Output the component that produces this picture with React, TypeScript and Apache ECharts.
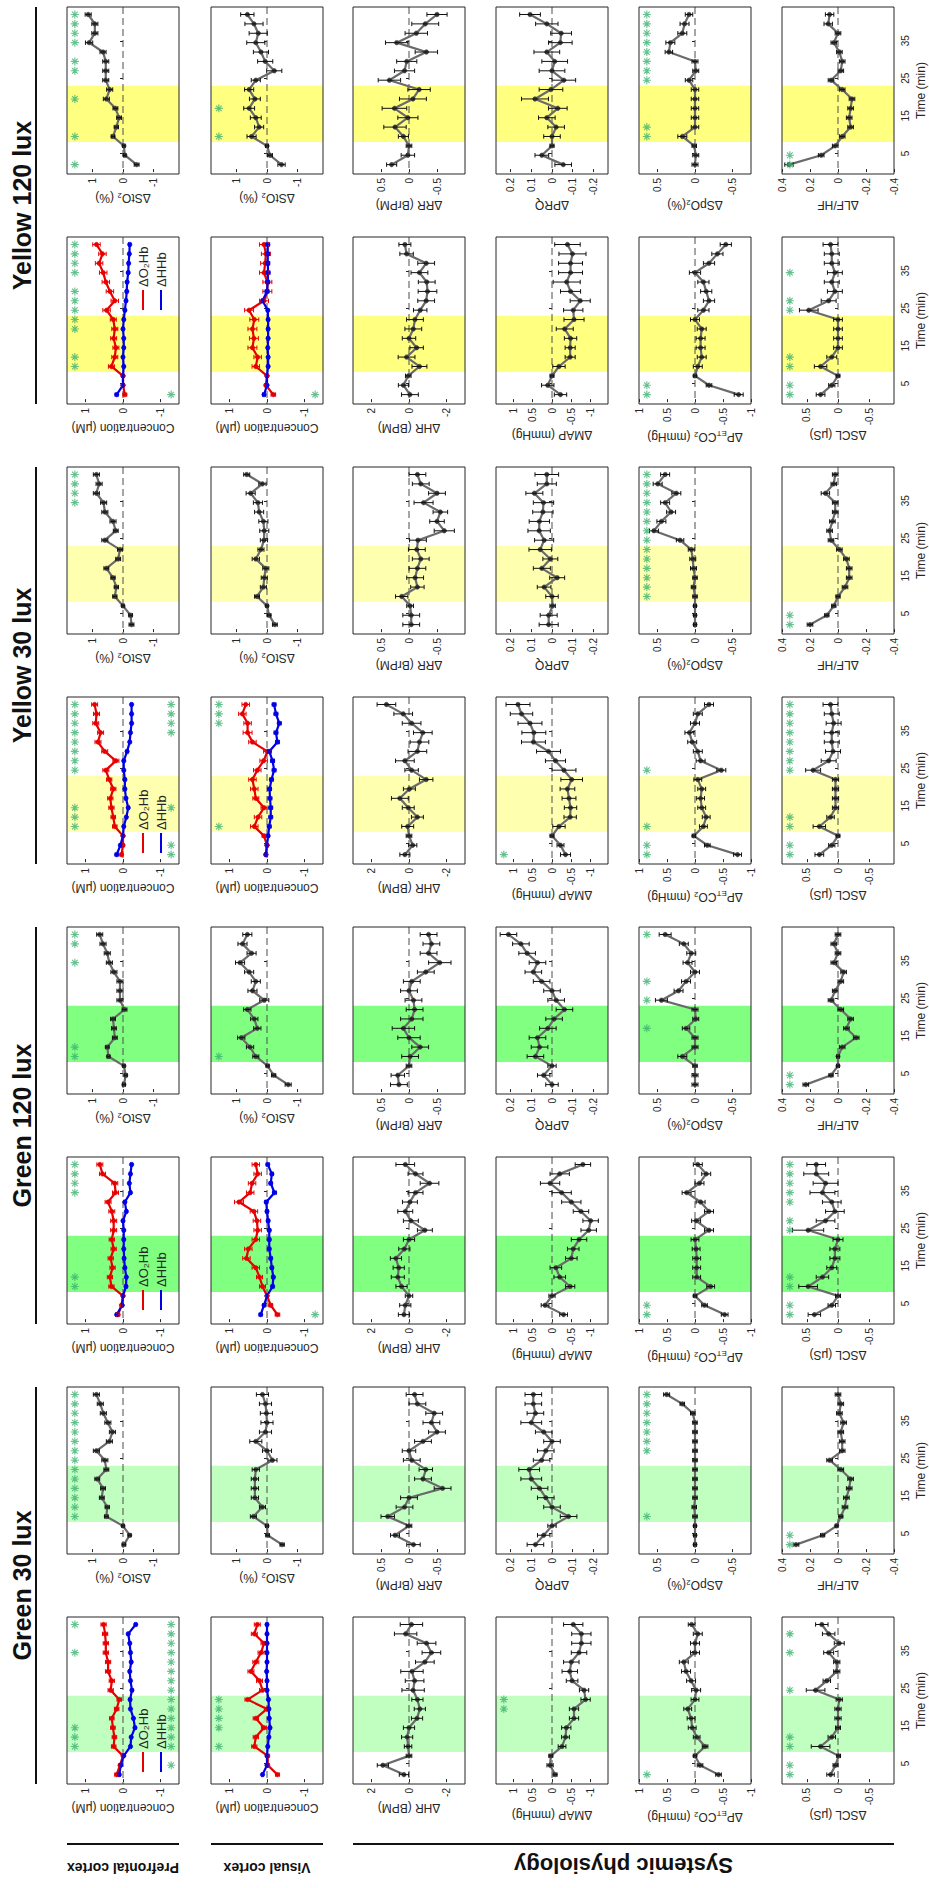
import React, { useEffect, useRef } from 'react';
import * as echarts from 'echarts';

// ---------- time base (min) ----------
const TIME = [2, 4.5, 7, 9.5, 12, 14.5, 17, 19.5, 22, 24.5, 27, 29.5, 32, 34.5, 37, 39.5, 42];
const LIGHT_ON = [8, 23];
const TIME_TICKS = [5, 15, 25, 35];
const CONDITIONS = ['Yellow 120 lux', 'Yellow 30 lux', 'Green 120 lux', 'Green 30 lux'];
const GROUPS = ['Prefrontal cortex', 'Visual cortex', 'Systemic physiology'];

// ---------- Yellow 120 lux ----------
const y120_pfc_sto2 = [-0.45, -0.06, -0.03, 0.33, 0.22, 0.13, 0.25, 0.55, 0.44, 0.57, 0.57, 0.57, 0.66, 1.12, 0.93, 0.93, 1.15];
const y120_pfc_sto2_err = [0.08, 0.04, 0.04, 0.06, 0.07, 0.08, 0.08, 0.1, 0.1, 0.1, 0.1, 0.1, 0.1, 0.12, 0.1, 0.1, 0.1];
const y120_pfc_sto2_sig = [1, 4, 8, 11, 12, 14, 15, 16, 17];
const y120_vc_sto2 = [-0.48, -0.1, 0.0, 0.51, 0.26, 0.37, 0.59, 0.4, 0.59, 0.37, -0.24, 0.06, 0.2, 0.37, 0.29, 0.43, 0.65];
const y120_vc_sto2_err = [0.12, 0.08, 0.05, 0.15, 0.15, 0.18, 0.18, 0.18, 0.15, 0.15, 0.25, 0.25, 0.25, 0.3, 0.3, 0.3, 0.22];
const y120_vc_sto2_sig = [4, 7];
const y120_rr = [0.31, 0.02, 0.0, 0.1, 0.25, 0.02, 0.26, -0.07, -0.18, 0.35, 0.08, 0.04, -0.31, 0.22, -0.13, -0.29, -0.5];
const y120_rr_err = [0.09, 0.12, 0.05, 0.09, 0.2, 0.18, 0.22, 0.24, 0.2, 0.2, 0.18, 0.18, 0.2, 0.2, 0.2, 0.24, 0.18];
const y120_prq = [-0.054, 0.049, 0.0, 0.0, -0.02, 0.025, -0.028, 0.082, 0.005, -0.057, 0.0, -0.013, 0.025, -0.04, -0.044, 0.025, 0.106];
const y120_prq_err = [0.04, 0.033, 0.01, 0.04, 0.04, 0.04, 0.045, 0.065, 0.057, 0.057, 0.062, 0.062, 0.062, 0.057, 0.05, 0.054, 0.05];
const y120_spo2 = [0.0, -0.01, 0.01, 0.17, 0.0, 0.0, 0.0, 0.0, 0.0, 0.08, -0.01, 0.0, 0.35, 0.33, 0.17, 0.14, 0.08];
const y120_spo2_err = [0.04, 0.04, 0.03, 0.06, 0.05, 0.05, 0.05, 0.05, 0.05, 0.05, 0.04, 0.04, 0.05, 0.06, 0.06, 0.06, 0.05];
const y120_spo2_sig = [4, 5, 10, 11, 12, 13, 14, 15, 16, 17];
const y120_lfhf = [0.35, 0.12, 0.02, -0.03, -0.09, -0.08, -0.09, -0.1, -0.03, 0.05, -0.02, -0.03, -0.01, 0.03, 0.0, 0.07, 0.06];
const y120_lfhf_err = [0.03, 0.02, 0.02, 0.02, 0.02, 0.02, 0.02, 0.02, 0.02, 0.02, 0.02, 0.02, 0.02, 0.02, 0.02, 0.03, 0.03];
const y120_lfhf_sig = [1, 2];
const y120_pfc_o2hb = [-0.05, 0.0, 0.0, 0.31, 0.22, 0.19, 0.25, 0.22, 0.26, 0.44, 0.22, 0.35, 0.46, 0.53, 0.64, 0.55, 0.71];
const y120_pfc_o2hb_err = [0.05, 0.03, 0.03, 0.08, 0.08, 0.08, 0.08, 0.08, 0.08, 0.1, 0.1, 0.1, 0.1, 0.1, 0.1, 0.1, 0.1];
const y120_pfc_o2hb_sig = [4, 5, 8, 9, 10, 11, 12, 14, 15, 16, 17];
const y120_pfc_hhb = [0.17, 0.0, 0.0, -0.02, 0.0, -0.02, -0.02, 0.0, -0.02, -0.05, -0.08, -0.1, -0.11, -0.14, -0.15, -0.17, -0.18];
const y120_pfc_hhb_err = [0.04, 0.02, 0.02, 0.03, 0.03, 0.03, 0.03, 0.03, 0.03, 0.03, 0.03, 0.03, 0.03, 0.03, 0.03, 0.03, 0.03];
const y120_pfc_hhb_sig = [1];
const y120_vc_o2hb = [-0.17, 0.03, 0.0, 0.3, 0.25, 0.39, 0.35, 0.39, 0.34, 0.48, 0.08, -0.01, -0.01, 0.08, 0.05, 0.03, 0.08];
const y120_vc_o2hb_err = [0.06, 0.04, 0.04, 0.1, 0.1, 0.12, 0.12, 0.12, 0.12, 0.12, 0.12, 0.12, 0.12, 0.12, 0.12, 0.12, 0.12];
const y120_vc_o2hb_sig = [];
const y120_vc_hhb = [0.08, 0.0, 0.0, -0.03, -0.03, -0.02, -0.03, -0.03, -0.03, -0.02, 0.12, 0.0, -0.02, -0.03, -0.02, -0.02, -0.02];
const y120_vc_hhb_err = [0.04, 0.02, 0.02, 0.03, 0.03, 0.03, 0.03, 0.03, 0.03, 0.03, 0.03, 0.05, 0.05, 0.05, 0.05, 0.05, 0.05];
const y120_vc_hhb_sig = [1];
const y120_hr = [-0.05, 0.3, 0.04, -0.56, 0.13, -0.41, 0.0, -0.23, -0.32, -0.6, -0.92, -0.99, -0.95, -0.56, -0.92, 0.13, 0.22];
const y120_hr_err = [0.45, 0.27, 0.15, 0.4, 0.45, 0.36, 0.36, 0.45, 0.45, 0.36, 0.45, 0.5, 0.45, 0.45, 0.45, 0.36, 0.32];
const y120_map = [-0.22, 0.11, 0.0, -0.18, -0.47, -0.47, -0.48, -0.33, -0.57, -0.55, -0.73, -0.48, -0.38, -0.48, -0.48, -0.53, -0.4];
const y120_map_err = [0.16, 0.16, 0.05, 0.16, 0.13, 0.13, 0.16, 0.22, 0.26, 0.25, 0.26, 0.26, 0.35, 0.31, 0.31, 0.35, 0.33];
const y120_map_sig = [];
const y120_petco2 = [-0.78, -0.25, 0.0, -0.05, -0.12, -0.1, -0.1, -0.12, 0.0, -0.15, -0.25, -0.2, -0.15, 0.0, -0.25, -0.4, -0.55];
const y120_petco2_err = [0.08, 0.05, 0.03, 0.08, 0.08, 0.08, 0.08, 0.08, 0.08, 0.1, 0.1, 0.1, 0.1, 0.1, 0.1, 0.1, 0.1];
const y120_petco2_sig = [1, 2];
const y120_scl = [0.28, 0.1, 0.0, 0.28, 0.1, 0.0, 0.0, 0.0, 0.0, 0.47, 0.15, 0.05, 0.1, 0.05, 0.1, 0.1, 0.12];
const y120_scl_err = [0.07, 0.05, 0.03, 0.1, 0.08, 0.07, 0.07, 0.07, 0.07, 0.15, 0.12, 0.12, 0.12, 0.12, 0.12, 0.12, 0.12];
const y120_scl_sig = [1, 2, 4, 5, 10, 11, 14];

// ---------- Yellow 30 lux ----------
const y30_pfc_sto2 = [-0.28, -0.25, 0.0, 0.27, 0.22, 0.33, 0.55, 0.16, 0.1, 0.6, 0.24, 0.33, 0.6, 0.64, 0.88, 0.79, 0.88];
const y30_pfc_sto2_err = [0.08, 0.06, 0.04, 0.07, 0.07, 0.07, 0.08, 0.08, 0.08, 0.1, 0.08, 0.1, 0.1, 0.1, 0.1, 0.1, 0.1];
const y30_pfc_sto2_sig = [14, 15, 16, 17];
const y30_vc_sto2 = [-0.26, -0.07, 0.0, 0.33, 0.12, 0.09, 0.04, 0.37, 0.2, 0.1, 0.09, 0.12, 0.26, 0.3, 0.54, 0.15, 0.67];
const y30_vc_sto2_err = [0.08, 0.06, 0.04, 0.08, 0.1, 0.1, 0.1, 0.12, 0.1, 0.12, 0.15, 0.15, 0.15, 0.15, 0.15, 0.12, 0.1];
const y30_vc_sto2_sig = [];
const y30_rr = [-0.04, -0.04, -0.02, 0.13, -0.15, -0.11, -0.15, -0.21, -0.14, -0.16, -0.63, -0.5, -0.56, -0.26, -0.5, -0.21, -0.15];
const y30_rr_err = [0.15, 0.15, 0.06, 0.11, 0.12, 0.15, 0.15, 0.15, 0.15, 0.15, 0.18, 0.13, 0.13, 0.17, 0.15, 0.15, 0.15];
const y30_prq = [0.016, 0.016, -0.003, 0.0, 0.038, -0.025, 0.049, 0.008, 0.057, 0.038, 0.062, 0.061, 0.044, 0.041, 0.085, 0.025, 0.025];
const y30_prq_err = [0.046, 0.041, 0.013, 0.03, 0.033, 0.036, 0.041, 0.036, 0.054, 0.046, 0.054, 0.049, 0.049, 0.049, 0.041, 0.046, 0.057];
const y30_spo2 = [0.0, 0.0, 0.0, 0.0, 0.02, 0.0, 0.02, 0.03, 0.05, 0.2, 0.55, 0.45, 0.32, 0.4, 0.25, 0.5, 0.4];
const y30_spo2_err = [0.02, 0.02, 0.02, 0.03, 0.03, 0.03, 0.04, 0.04, 0.04, 0.05, 0.06, 0.06, 0.06, 0.06, 0.06, 0.06, 0.06];
const y30_spo2_sig = [4, 5, 6, 7, 8, 9, 10, 11, 12, 13, 14, 15, 16, 17];
const y30_lfhf = [0.2, 0.08, 0.03, 0.0, -0.05, -0.08, -0.08, -0.06, -0.01, 0.05, 0.06, 0.04, 0.02, 0.02, 0.09, 0.03, 0.02];
const y30_lfhf_err = [0.02, 0.015, 0.015, 0.015, 0.02, 0.02, 0.02, 0.02, 0.02, 0.02, 0.02, 0.02, 0.02, 0.02, 0.03, 0.02, 0.02];
const y30_lfhf_sig = [1, 2];
const y30_pfc_o2hb = [0.04, 0.0, 0.0, 0.22, 0.26, 0.31, 0.34, 0.26, 0.37, 0.46, 0.19, 0.49, 0.67, 0.6, 0.73, 0.71, 0.76];
const y30_pfc_o2hb_err = [0.04, 0.03, 0.03, 0.06, 0.06, 0.07, 0.07, 0.07, 0.07, 0.08, 0.08, 0.08, 0.08, 0.08, 0.08, 0.08, 0.08];
const y30_pfc_o2hb_sig = [4, 5, 6, 10, 11, 12, 13, 14, 15, 16, 17];
const y30_pfc_hhb = [0.17, 0.07, 0.0, -0.02, -0.09, -0.14, -0.08, -0.05, -0.05, -0.02, -0.02, -0.11, -0.18, -0.2, -0.23, -0.23, -0.23];
const y30_pfc_hhb_err = [0.04, 0.03, 0.02, 0.03, 0.03, 0.03, 0.03, 0.03, 0.03, 0.03, 0.03, 0.03, 0.03, 0.03, 0.03, 0.03, 0.03];
const y30_pfc_hhb_sig = [1, 2, 6, 14, 15, 16, 17];
const y30_vc_o2hb = [0.03, 0.0, 0.08, 0.34, 0.24, 0.08, 0.3, 0.34, 0.39, 0.26, 0.09, -0.01, 0.39, 0.52, 0.52, 0.66, 0.57];
const y30_vc_o2hb_err = [0.04, 0.03, 0.05, 0.1, 0.1, 0.08, 0.08, 0.1, 0.1, 0.1, 0.1, 0.1, 0.1, 0.12, 0.1, 0.1, 0.1];
const y30_vc_o2hb_sig = [4, 15, 16, 17];
const y30_vc_hhb = [0.03, 0.0, -0.03, -0.06, -0.1, -0.1, -0.08, -0.07, -0.12, -0.19, -0.15, -0.06, -0.28, -0.24, -0.33, -0.24, -0.19];
const y30_vc_hhb_err = [0.03, 0.02, 0.03, 0.05, 0.05, 0.05, 0.05, 0.05, 0.05, 0.05, 0.05, 0.05, 0.05, 0.05, 0.05, 0.05, 0.05];
const y30_vc_hhb_sig = [];
const y30_hr = [0.22, -0.2, 0.0, 0.07, -0.45, 0.04, 0.49, -0.02, -0.92, -0.14, 0.22, -0.45, -0.56, -0.74, -0.14, 0.31, 1.21];
const y30_hr_err = [0.27, 0.22, 0.15, 0.32, 0.32, 0.32, 0.45, 0.32, 0.36, 0.36, 0.5, 0.5, 0.5, 0.5, 0.5, 0.5, 0.5];
const y30_map = [-0.35, -0.22, 0.0, -0.18, -0.47, -0.48, -0.44, -0.4, -0.51, -0.31, -0.09, 0.09, 0.48, 0.47, 0.57, 0.79, 0.88];
const y30_map_err = [0.13, 0.09, 0.05, 0.16, 0.16, 0.16, 0.18, 0.19, 0.28, 0.31, 0.26, 0.31, 0.31, 0.31, 0.31, 0.29, 0.31];
const y30_map_sig = [1];
const y30_petco2 = [-0.76, -0.22, 0.02, -0.15, -0.2, -0.12, -0.1, -0.12, -0.05, -0.47, -0.1, -0.05, 0.05, 0.1, 0.0, -0.05, -0.25];
const y30_petco2_err = [0.07, 0.05, 0.03, 0.07, 0.07, 0.07, 0.07, 0.07, 0.07, 0.08, 0.08, 0.08, 0.08, 0.08, 0.08, 0.08, 0.08];
const y30_petco2_sig = [1, 2, 4, 10];
const y30_scl = [0.3, 0.1, 0.0, 0.3, 0.12, 0.04, 0.04, 0.04, 0.04, 0.4, 0.15, 0.08, 0.1, 0.1, 0.07, 0.1, 0.12];
const y30_scl_err = [0.07, 0.05, 0.03, 0.1, 0.06, 0.05, 0.05, 0.05, 0.05, 0.12, 0.12, 0.12, 0.12, 0.12, 0.12, 0.12, 0.12];
const y30_scl_sig = [1, 2, 4, 5, 10, 11, 12, 13, 14, 15, 16, 17];

// ---------- Green 120 lux ----------
const g120_pfc_sto2 = [-0.03, -0.09, -0.03, 0.48, 0.52, 0.27, 0.3, 0.33, -0.05, 0.1, 0.1, 0.1, 0.3, 0.45, 0.52, 0.66, 0.77];
const g120_pfc_sto2_err = [0.05, 0.05, 0.04, 0.05, 0.06, 0.08, 0.08, 0.08, 0.08, 0.1, 0.1, 0.1, 0.1, 0.1, 0.1, 0.1, 0.1];
const g120_pfc_sto2_sig = [4, 5, 14, 16, 17];
const g120_vc_sto2 = [-0.7, -0.22, -0.02, 0.37, 0.56, 0.85, 0.32, 0.42, 0.65, 0.09, 0.48, 0.37, 0.59, 0.89, 0.51, 0.81, 0.65];
const g120_vc_sto2_err = [0.1, 0.07, 0.05, 0.1, 0.12, 0.12, 0.12, 0.12, 0.12, 0.15, 0.15, 0.15, 0.15, 0.15, 0.15, 0.15, 0.15];
const g120_vc_sto2_sig = [4];
const g120_rr = [0.18, 0.2, 0.0, -0.02, -0.2, 0.0, 0.1, -0.05, -0.1, -0.08, 0.0, -0.05, -0.3, -0.55, -0.35, -0.4, -0.35];
const g120_rr_err = [0.15, 0.12, 0.05, 0.15, 0.15, 0.2, 0.2, 0.2, 0.15, 0.15, 0.15, 0.15, 0.15, 0.2, 0.15, 0.15, 0.15];
const g120_prq = [0.0, 0.04, 0.0, 0.08, 0.06, 0.07, 0.02, -0.01, -0.06, -0.02, 0.0, 0.05, 0.09, 0.07, 0.12, 0.15, 0.21];
const g120_prq_err = [0.03, 0.03, 0.02, 0.04, 0.04, 0.04, 0.04, 0.04, 0.04, 0.04, 0.04, 0.04, 0.04, 0.04, 0.04, 0.04, 0.04];
const g120_spo2 = [0.0, 0.0, 0.0, 0.17, 0.0, 0.0, 0.12, -0.01, 0.0, 0.45, 0.22, 0.12, 0.0, 0.1, 0.05, 0.15, 0.4];
const g120_spo2_err = [0.04, 0.04, 0.03, 0.06, 0.04, 0.04, 0.05, 0.04, 0.04, 0.08, 0.06, 0.06, 0.06, 0.06, 0.06, 0.06, 0.08];
const g120_spo2_sig = [7, 10, 12, 17];
const g120_lfhf = [0.23, 0.05, 0.0, 0.0, -0.03, -0.13, -0.06, -0.09, -0.02, 0.05, 0.02, -0.02, -0.04, 0.03, 0.0, 0.03, 0.0];
const g120_lfhf_err = [0.02, 0.015, 0.01, 0.01, 0.02, 0.02, 0.02, 0.02, 0.02, 0.02, 0.02, 0.02, 0.02, 0.02, 0.02, 0.02, 0.02];
const g120_lfhf_sig = [1, 2];
const g120_pfc_o2hb = [0.13, 0.04, 0.0, 0.31, 0.35, 0.28, 0.33, 0.25, 0.3, 0.25, 0.25, 0.3, 0.4, 0.2, 0.22, 0.55, 0.62];
const g120_pfc_o2hb_err = [0.04, 0.03, 0.03, 0.07, 0.07, 0.07, 0.07, 0.07, 0.07, 0.08, 0.08, 0.08, 0.08, 0.08, 0.08, 0.08, 0.08];
const g120_pfc_o2hb_sig = [4, 5, 14, 15, 16, 17];
const g120_pfc_hhb = [0.17, 0.02, 0.0, -0.08, -0.09, -0.05, -0.03, -0.02, -0.02, -0.02, 0.0, -0.09, -0.05, -0.2, -0.17, -0.2, -0.23];
const g120_pfc_hhb_err = [0.03, 0.02, 0.02, 0.03, 0.03, 0.03, 0.03, 0.03, 0.03, 0.03, 0.03, 0.03, 0.03, 0.03, 0.03, 0.03, 0.03];
const g120_pfc_hhb_sig = [];
const g120_vc_o2hb = [-0.28, -0.1, 0.0, 0.12, 0.2, 0.3, 0.55, 0.5, 0.3, 0.25, 0.27, 0.35, 0.75, 0.45, 0.4, 0.25, 0.3];
const g120_vc_o2hb_err = [0.06, 0.05, 0.04, 0.08, 0.08, 0.1, 0.1, 0.1, 0.1, 0.1, 0.1, 0.1, 0.12, 0.1, 0.1, 0.1, 0.1];
const g120_vc_o2hb_sig = [];
const g120_vc_hhb = [0.17, 0.08, 0.0, -0.15, -0.17, -0.13, -0.1, -0.06, -0.06, -0.06, -0.03, 0.0, 0.02, -0.2, -0.1, -0.13, -0.02];
const g120_vc_hhb_err = [0.04, 0.03, 0.02, 0.04, 0.04, 0.04, 0.04, 0.04, 0.04, 0.04, 0.04, 0.04, 0.04, 0.05, 0.04, 0.04, 0.04];
const g120_vc_hhb_sig = [1];
const g120_hr = [0.27, 0.2, 0.0, 0.4, 0.6, 0.55, 0.7, 0.25, 0.0, -0.85, -0.1, 0.2, -0.05, -0.35, -1.1, -0.35, 0.2];
const g120_hr_err = [0.3, 0.3, 0.2, 0.3, 0.35, 0.3, 0.3, 0.3, 0.3, 0.4, 0.4, 0.4, 0.4, 0.4, 0.5, 0.4, 0.5];
const g120_map = [-0.3, 0.18, 0.0, -0.47, -0.2, -0.1, -0.5, -0.55, -0.7, -0.95, -1.0, -0.75, -0.5, -0.25, 0.05, -0.2, -0.8];
const g120_map_err = [0.1, 0.1, 0.08, 0.12, 0.15, 0.15, 0.15, 0.15, 0.2, 0.2, 0.2, 0.2, 0.25, 0.25, 0.25, 0.25, 0.2];
const g120_map_sig = [];
const g120_petco2 = [-0.53, -0.17, 0.0, -0.28, -0.03, -0.03, -0.03, -0.02, 0.0, -0.25, -0.02, -0.25, -0.1, 0.15, -0.08, -0.2, -0.05];
const g120_petco2_err = [0.06, 0.05, 0.03, 0.07, 0.07, 0.07, 0.07, 0.07, 0.07, 0.08, 0.08, 0.08, 0.08, 0.08, 0.08, 0.08, 0.08];
const g120_petco2_sig = [1, 2];
const g120_scl = [0.38, 0.1, 0.0, 0.48, 0.25, 0.1, 0.05, 0.05, 0.0, 0.48, 0.2, 0.05, 0.1, 0.25, 0.2, 0.35, 0.35];
const g120_scl_err = [0.1, 0.06, 0.04, 0.15, 0.1, 0.08, 0.08, 0.08, 0.08, 0.25, 0.15, 0.15, 0.15, 0.2, 0.2, 0.2, 0.15];
const g120_scl_sig = [1, 2, 4, 5, 10, 11, 13, 14, 15, 16, 17];

// ---------- Green 30 lux ----------
const g30_pfc_sto2 = [-0.03, -0.22, 0.0, 0.55, 0.52, 0.7, 0.66, 0.85, 0.55, 0.6, 0.88, 0.45, 0.35, 0.5, 0.65, 0.75, 0.88];
const g30_pfc_sto2_err = [0.06, 0.05, 0.04, 0.06, 0.07, 0.08, 0.08, 0.08, 0.08, 0.1, 0.1, 0.1, 0.1, 0.1, 0.1, 0.1, 0.1];
const g30_pfc_sto2_sig = [4, 5, 6, 7, 8, 9, 10, 11, 12, 13, 14, 15, 16, 17];
const g30_vc_sto2 = [-0.5, -0.02, 0.0, 0.45, 0.15, 0.4, 0.4, 0.4, 0.37, -0.18, 0.0, 0.37, 0.05, 0.0, 0.02, 0.05, 0.15];
const g30_vc_sto2_err = [0.07, 0.06, 0.05, 0.1, 0.1, 0.12, 0.12, 0.12, 0.12, 0.15, 0.15, 0.2, 0.2, 0.2, 0.2, 0.2, 0.2];
const g30_vc_sto2_sig = [];
const g30_rr = [-0.08, 0.25, 0.0, 0.38, 0.08, 0.0, -0.6, -0.25, -0.3, -0.05, 0.0, -0.25, -0.5, -0.4, -0.45, -0.15, -0.1];
const g30_rr_err = [0.12, 0.08, 0.05, 0.12, 0.15, 0.15, 0.15, 0.15, 0.12, 0.15, 0.12, 0.15, 0.15, 0.15, 0.15, 0.15, 0.15];
const g30_prq = [0.08, 0.04, 0.0, -0.08, 0.0, 0.03, 0.06, 0.1, 0.11, 0.05, 0.03, 0.0, 0.04, 0.1, 0.08, 0.09, 0.09];
const g30_prq_err = [0.04, 0.03, 0.02, 0.04, 0.04, 0.04, 0.04, 0.05, 0.05, 0.04, 0.04, 0.04, 0.04, 0.05, 0.04, 0.04, 0.04];
const g30_spo2 = [0.0, 0.0, 0.0, 0.0, 0.01, 0.0, 0.0, 0.0, 0.0, 0.0, 0.0, 0.0, 0.0, 0.0, 0.03, 0.17, 0.38];
const g30_spo2_err = [0.02, 0.02, 0.02, 0.03, 0.03, 0.03, 0.03, 0.03, 0.03, 0.03, 0.03, 0.03, 0.03, 0.03, 0.03, 0.03, 0.04];
const g30_spo2_sig = [4, 11, 12, 13, 14, 15, 16, 17];
const g30_lfhf = [0.3, 0.11, 0.01, -0.02, -0.05, -0.06, -0.08, -0.09, -0.02, 0.06, -0.03, -0.03, -0.02, -0.04, -0.01, -0.02, 0.0];
const g30_lfhf_err = [0.02, 0.015, 0.01, 0.015, 0.02, 0.02, 0.02, 0.02, 0.02, 0.02, 0.02, 0.02, 0.02, 0.02, 0.02, 0.02, 0.02];
const g30_lfhf_sig = [1, 2];
const g30_pfc_o2hb = [0.17, 0.08, 0.0, 0.25, 0.23, 0.27, 0.3, 0.17, 0.1, 0.33, 0.3, 0.4, 0.4, 0.46, 0.46, 0.48, 0.52];
const g30_pfc_o2hb_err = [0.05, 0.03, 0.03, 0.06, 0.06, 0.06, 0.06, 0.06, 0.06, 0.07, 0.07, 0.07, 0.07, 0.07, 0.07, 0.07, 0.07];
const g30_pfc_o2hb_sig = [4, 5, 6, 14, 17];
const g30_pfc_hhb = [0.1, 0.06, -0.02, -0.2, -0.22, -0.32, -0.28, -0.2, -0.19, -0.24, -0.2, -0.18, -0.22, -0.2, -0.18, -0.14, -0.34];
const g30_pfc_hhb_err = [0.03, 0.02, 0.02, 0.03, 0.03, 0.03, 0.03, 0.03, 0.03, 0.03, 0.03, 0.03, 0.03, 0.03, 0.03, 0.03, 0.03];
const g30_pfc_hhb_sig = [2, 4, 5, 6, 7, 8, 9, 10, 11, 12, 13, 14, 15, 16, 17];
const g30_vc_o2hb = [-0.28, -0.02, -0.02, 0.34, 0.3, 0.08, 0.3, 0.0, 0.52, 0.12, 0.2, 0.43, 0.3, 0.16, 0.08, 0.34, 0.26];
const g30_vc_o2hb_err = [0.05, 0.04, 0.04, 0.07, 0.07, 0.07, 0.07, 0.07, 0.07, 0.08, 0.08, 0.08, 0.08, 0.08, 0.08, 0.08, 0.08];
const g30_vc_o2hb_sig = [4, 6, 7, 8, 9];
const g30_vc_hhb = [0.12, 0.0, 0.0, -0.02, -0.05, -0.08, -0.06, -0.05, -0.04, 0.0, 0.0, 0.01, 0.0, 0.0, 0.0, 0.0, 0.0];
const g30_vc_hhb_err = [0.03, 0.02, 0.02, 0.03, 0.03, 0.03, 0.03, 0.03, 0.03, 0.03, 0.03, 0.03, 0.03, 0.03, 0.03, 0.03, 0.03];
const g30_vc_hhb_sig = [];
const g30_hr = [0.27, 1.4, 0.0, 0.05, 0.1, 0.0, -0.43, -0.58, -0.45, -0.22, -0.3, -0.16, -0.85, -1.2, -0.94, 0.18, -0.13];
const g30_hr_err = [0.25, 0.3, 0.15, 0.2, 0.3, 0.3, 0.3, 0.3, 0.3, 0.6, 0.5, 0.6, 0.5, 0.5, 0.5, 0.6, 0.6];
const g30_map = [-0.08, 0.05, 0.03, -0.26, -0.35, -0.37, -0.57, -0.57, -0.87, -0.83, -0.52, -0.46, -0.5, -0.7, -0.76, -0.76, -0.55];
const g30_map_err = [0.05, 0.08, 0.05, 0.1, 0.1, 0.12, 0.12, 0.12, 0.12, 0.12, 0.15, 0.2, 0.2, 0.2, 0.25, 0.25, 0.25];
const g30_map_sig = [8, 9];
const g30_petco2 = [-0.42, -0.09, 0.0, -0.18, -0.03, 0.05, 0.07, 0.13, 0.0, -0.02, 0.07, 0.16, 0.2, 0.0, 0.0, -0.05, 0.06];
const g30_petco2_err = [0.05, 0.05, 0.03, 0.05, 0.06, 0.07, 0.07, 0.07, 0.07, 0.08, 0.08, 0.08, 0.08, 0.08, 0.08, 0.08, 0.06];
const g30_petco2_sig = [1];
const g30_scl = [0.12, 0.04, -0.01, 0.28, 0.1, 0.0, 0.0, 0.0, -0.02, 0.36, 0.18, 0.02, 0.02, 0.15, -0.02, 0.15, 0.26];
const g30_scl_err = [0.06, 0.04, 0.03, 0.15, 0.06, 0.04, 0.05, 0.05, 0.05, 0.15, 0.06, 0.05, 0.05, 0.08, 0.08, 0.1, 0.1];
const g30_scl_sig = [1, 2, 4, 5, 10, 14, 16];

// ---------- layout / style ----------
const FONT = "'Liberation Sans', Arial, Helvetica, sans-serif";
const INK = '#262626';
const GRAY_LINE = '#6a6a6a';
const GRAY_MARK = '#383838';
const RED = '#e60000';
const BLUE = '#0000e6';
const STAR = '#3cb371';
const BAND_COLORS = ['#ffff80', '#ffffb0', '#80ff80', '#c0ffc0'];
const COL_LEFT = [67, 211, 353, 496, 639, 782];
const ROW_TOP = [7, 237, 467, 697, 927, 1157, 1387, 1617];
const PANEL_W = 112;
const PANEL_H = 167;
const T_MIN = -0.5;
const T_MAX = 44;
const LEGEND_OFFSET = [53, 136, 133, 135];

const VARS = {
  sto2: { name: 'ΔStO₂ (%)', max: 1.85, ticks: [-1, 0, 1], gap: 18 },
  conc: { name: 'Concentration (μM)', max: 1.5, ticks: [-1, 0, 1], gap: 18 },
  hr: { name: 'ΔHR (BPM)', max: 3, ticks: [-2, 0, 2], gap: 18 },
  rr: { name: 'ΔRR (BrPM)', max: 1, ticks: [-0.5, 0, 0.5], gap: 25 },
  map: { name: 'ΔMAP (mmHg)', max: 1.45, ticks: [-1, -0.5, 0, 0.5, 1], gap: 25 },
  prq: { name: 'ΔPRQ', max: 0.27, ticks: [-0.2, -0.1, 0, 0.1, 0.2], gap: 25 },
  petco2: { name: '{a|ΔP}{b|ET}{a|CO₂ (mmHg)}', max: 1, ticks: [-1, -0.5, 0, 0.5, 1], gap: 25 },
  spo2: { name: 'ΔSpO₂(%)', max: 0.75, ticks: [-0.5, 0, 0.5], gap: 25 },
  scl: { name: 'ΔSCL (μS)', max: 0.9, ticks: [-0.5, 0, 0.5], gap: 25 },
  lfhf: { name: 'ΔLF/HF', max: 0.4, ticks: [-0.4, -0.2, 0, 0.2, 0.4], gap: 25 },
};

const COND_SETS = [
  {
    pfcSto2: [y120_pfc_sto2, y120_pfc_sto2_err, y120_pfc_sto2_sig], vcSto2: [y120_vc_sto2, y120_vc_sto2_err, y120_vc_sto2_sig],
    rr: [y120_rr, y120_rr_err, []], prq: [y120_prq, y120_prq_err, []], spo2: [y120_spo2, y120_spo2_err, y120_spo2_sig], lfhf: [y120_lfhf, y120_lfhf_err, y120_lfhf_sig],
    pfcO2: [y120_pfc_o2hb, y120_pfc_o2hb_err, y120_pfc_o2hb_sig], pfcH: [y120_pfc_hhb, y120_pfc_hhb_err, y120_pfc_hhb_sig],
    vcO2: [y120_vc_o2hb, y120_vc_o2hb_err, y120_vc_o2hb_sig], vcH: [y120_vc_hhb, y120_vc_hhb_err, y120_vc_hhb_sig],
    hr: [y120_hr, y120_hr_err, []], map: [y120_map, y120_map_err, y120_map_sig], petco2: [y120_petco2, y120_petco2_err, y120_petco2_sig], scl: [y120_scl, y120_scl_err, y120_scl_sig],
  },
  {
    pfcSto2: [y30_pfc_sto2, y30_pfc_sto2_err, y30_pfc_sto2_sig], vcSto2: [y30_vc_sto2, y30_vc_sto2_err, y30_vc_sto2_sig],
    rr: [y30_rr, y30_rr_err, []], prq: [y30_prq, y30_prq_err, []], spo2: [y30_spo2, y30_spo2_err, y30_spo2_sig], lfhf: [y30_lfhf, y30_lfhf_err, y30_lfhf_sig],
    pfcO2: [y30_pfc_o2hb, y30_pfc_o2hb_err, y30_pfc_o2hb_sig], pfcH: [y30_pfc_hhb, y30_pfc_hhb_err, y30_pfc_hhb_sig],
    vcO2: [y30_vc_o2hb, y30_vc_o2hb_err, y30_vc_o2hb_sig], vcH: [y30_vc_hhb, y30_vc_hhb_err, y30_vc_hhb_sig],
    hr: [y30_hr, y30_hr_err, []], map: [y30_map, y30_map_err, y30_map_sig], petco2: [y30_petco2, y30_petco2_err, y30_petco2_sig], scl: [y30_scl, y30_scl_err, y30_scl_sig],
  },
  {
    pfcSto2: [g120_pfc_sto2, g120_pfc_sto2_err, g120_pfc_sto2_sig], vcSto2: [g120_vc_sto2, g120_vc_sto2_err, g120_vc_sto2_sig],
    rr: [g120_rr, g120_rr_err, []], prq: [g120_prq, g120_prq_err, []], spo2: [g120_spo2, g120_spo2_err, g120_spo2_sig], lfhf: [g120_lfhf, g120_lfhf_err, g120_lfhf_sig],
    pfcO2: [g120_pfc_o2hb, g120_pfc_o2hb_err, g120_pfc_o2hb_sig], pfcH: [g120_pfc_hhb, g120_pfc_hhb_err, g120_pfc_hhb_sig],
    vcO2: [g120_vc_o2hb, g120_vc_o2hb_err, g120_vc_o2hb_sig], vcH: [g120_vc_hhb, g120_vc_hhb_err, g120_vc_hhb_sig],
    hr: [g120_hr, g120_hr_err, []], map: [g120_map, g120_map_err, g120_map_sig], petco2: [g120_petco2, g120_petco2_err, g120_petco2_sig], scl: [g120_scl, g120_scl_err, g120_scl_sig],
  },
  {
    pfcSto2: [g30_pfc_sto2, g30_pfc_sto2_err, g30_pfc_sto2_sig], vcSto2: [g30_vc_sto2, g30_vc_sto2_err, g30_vc_sto2_sig],
    rr: [g30_rr, g30_rr_err, []], prq: [g30_prq, g30_prq_err, []], spo2: [g30_spo2, g30_spo2_err, g30_spo2_sig], lfhf: [g30_lfhf, g30_lfhf_err, g30_lfhf_sig],
    pfcO2: [g30_pfc_o2hb, g30_pfc_o2hb_err, g30_pfc_o2hb_sig], pfcH: [g30_pfc_hhb, g30_pfc_hhb_err, g30_pfc_hhb_sig],
    vcO2: [g30_vc_o2hb, g30_vc_o2hb_err, g30_vc_o2hb_sig], vcH: [g30_vc_hhb, g30_vc_hhb_err, g30_vc_hhb_sig],
    hr: [g30_hr, g30_hr_err, []], map: [g30_map, g30_map_err, g30_map_sig], petco2: [g30_petco2, g30_petco2_err, g30_petco2_sig], scl: [g30_scl, g30_scl_err, g30_scl_sig],
  },
];

function buildPanels() {
  const panels: any[] = [];
  COND_SETS.forEach((S: any, c) => {
    const rA = 2 * c;
    const rB = 2 * c + 1;
    const gray = (k: string) => [{ set: S[k], line: GRAY_LINE, mark: GRAY_MARK, bar: '#111111', side: 1 }];
    const topRow = [['sto2', 'pfcSto2'], ['sto2', 'vcSto2'], ['rr', 'rr'], ['prq', 'prq'], ['spo2', 'spo2'], ['lfhf', 'lfhf']];
    topRow.forEach(([v, k], col) => panels.push({ row: rA, col, cond: c, varKey: v, series: gray(k) }));
    const botRow: any[] = [
      ['conc', [{ set: S.pfcO2, line: RED, mark: RED, bar: RED, side: 1 }, { set: S.pfcH, line: BLUE, mark: BLUE, bar: BLUE, side: -1 }], true],
      ['conc', [{ set: S.vcO2, line: RED, mark: RED, bar: RED, side: 1 }, { set: S.vcH, line: BLUE, mark: BLUE, bar: BLUE, side: -1 }], false],
      ['hr', gray('hr'), false], ['map', gray('map'), false], ['petco2', gray('petco2'), false], ['scl', gray('scl'), false],
    ];
    botRow.forEach(([v, ser, legend], col) => panels.push({ row: rB, col, cond: c, varKey: v, series: ser, legend }));
  });
  return panels;
}

const STAR_PATH = 'path://M0,-10L0,10M-10,0L10,0M-7,-7L7,7M-7,7L7,-7';

function buildOption() {
  const panels = buildPanels();
  const grid: any[] = [];
  const xAxis: any[] = [];
  const yAxis: any[] = [];
  const series: any[] = [];
  const graphic: any[] = [];

  panels.forEach((p, i) => {
    const v = (VARS as any)[p.varKey];
    const isLastCol = p.col === 5;
    grid.push({
      left: COL_LEFT[p.col], top: ROW_TOP[p.row], width: PANEL_W, height: PANEL_H,
      show: true, borderColor: INK, borderWidth: 1, backgroundColor: 'rgba(0,0,0,0)', z: 5,
    });
    xAxis.push({
      gridIndex: i, type: 'value', inverse: true, min: -v.max, max: v.max,
      axisLine: { show: false }, splitLine: { show: false },
      axisTick: { show: true, inside: true, length: 3, customValues: v.ticks, lineStyle: { color: INK } },
      axisLabel: { show: true, rotate: 90, customValues: v.ticks, fontSize: 10, color: INK, fontFamily: FONT, margin: 4 },
      name: v.name, nameLocation: 'middle', nameRotate: 180, nameGap: v.gap,
      nameTextStyle: {
        fontSize: 12, color: INK, fontFamily: FONT,
        rich: {
          a: { fontSize: 12, color: INK, fontFamily: FONT, lineHeight: 16 },
          b: { fontSize: 8, color: INK, fontFamily: FONT, lineHeight: 16, verticalAlign: 'bottom', padding: [6, 0, 0, 0] },
        },
      },
    });
    yAxis.push({
      gridIndex: i, type: 'value', min: T_MIN, max: T_MAX, position: 'right',
      axisLine: { show: false }, splitLine: { show: false },
      axisTick: { show: true, inside: true, length: 3, customValues: TIME_TICKS, lineStyle: { color: INK } },
      axisLabel: { show: isLastCol, rotate: 90, customValues: TIME_TICKS, fontSize: 10, color: INK, fontFamily: FONT, margin: 6 },
      name: isLastCol ? 'Time (min)' : '', nameLocation: 'middle', nameRotate: 90, nameGap: 21,
      nameTextStyle: { fontSize: 12, color: INK, fontFamily: FONT },
    });

    const bandColor = BAND_COLORS[p.cond];
    const vmax = v.max;
    series.push({
      type: 'custom', xAxisIndex: i, yAxisIndex: i, z: 1, silent: true,
      data: [[0, 0]], encode: { x: 0, y: 1 },
      renderItem: (params: any, api: any) => {
        const a = api.coord([vmax, LIGHT_ON[1]]);
        const b = api.coord([-vmax, LIGHT_ON[0]]);
        const z1 = api.coord([0, T_MAX]);
        const z2 = api.coord([0, T_MIN]);
        return {
          type: 'group',
          children: [
            { type: 'rect', shape: { x: Math.min(a[0], b[0]), y: Math.min(a[1], b[1]), width: Math.abs(b[0] - a[0]), height: Math.abs(b[1] - a[1]) }, style: { fill: bandColor } },
            { type: 'line', shape: { x1: z1[0], y1: z1[1], x2: z2[0], y2: z2[1] }, style: { stroke: '#4d4d4d', lineWidth: 1, lineDash: [7, 4] } },
          ],
        };
      },
    });

    p.series.forEach((s: any) => {
      const [mean, err, sig] = s.set;
      series.push({
        type: 'line', xAxisIndex: i, yAxisIndex: i, z: 2, silent: true,
        data: TIME.map((t, k) => [mean[k], t]),
        symbol: 'circle', symbolSize: 4.5, showSymbol: true,
        lineStyle: { color: s.line, width: 2.2 },
        itemStyle: { color: s.mark, borderColor: s.mark, borderWidth: 0.5 },
      });
      const barColor = s.bar;
      series.push({
        type: 'custom', xAxisIndex: i, yAxisIndex: i, z: 3, silent: true,
        data: TIME.map((t, k) => [mean[k], t, err[k]]),
        encode: { x: 0, y: 1 },
        renderItem: (params: any, api: any) => {
          const m = api.value(0);
          const t = api.value(1);
          const e = api.value(2);
          const a = api.coord([m - e, t]);
          const b = api.coord([m + e, t]);
          const h = 2.2;
          const st = { stroke: barColor, lineWidth: 1 };
          return {
            type: 'group',
            children: [
              { type: 'line', shape: { x1: a[0], y1: a[1], x2: b[0], y2: b[1] }, style: st },
              { type: 'line', shape: { x1: a[0], y1: a[1] - h, x2: a[0], y2: a[1] + h }, style: st },
              { type: 'line', shape: { x1: b[0], y1: b[1] - h, x2: b[0], y2: b[1] + h }, style: st },
            ],
          };
        },
      });
      if (sig && sig.length) {
        const pos = 0.86 * vmax * s.side;
        series.push({
          type: 'scatter', xAxisIndex: i, yAxisIndex: i, z: 4, silent: true,
          data: sig.map((k: number) => [pos, TIME[k - 1]]),
          symbol: STAR_PATH, symbolSize: 8,
          itemStyle: { color: 'rgba(0,0,0,0)', borderColor: STAR, borderWidth: 1.1 },
        });
      }
    });

    if (p.legend) {
      const T = ROW_TOP[p.row];
      const y0 = T + LEGEND_OFFSET[p.cond];
      [[143, RED, 'ΔO₂Hb'], [161, BLUE, 'ΔHHb']].forEach(([x, col, label]: any) => {
        graphic.push({ type: 'line', shape: { x1: x, y1: y0, x2: x, y2: y0 + 20 }, style: { stroke: col, lineWidth: 2 }, z: 10 });
        graphic.push({
          type: 'text', x, y: y0 - 3, rotation: Math.PI / 2, z: 10,
          style: { text: label, fontSize: 13, fontFamily: FONT, fill: INK, align: 'left', verticalAlign: 'middle' },
        });
      });
    }
  });

  CONDITIONS.forEach((name, c) => {
    const top = ROW_TOP[2 * c];
    const bottom = ROW_TOP[2 * c + 1] + PANEL_H;
    graphic.push({ type: 'line', shape: { x1: 36, y1: top, x2: 36, y2: bottom }, style: { stroke: '#111', lineWidth: 2 } });
    graphic.push({
      type: 'text', x: 22, y: (top + bottom) / 2, rotation: Math.PI / 2,
      style: { text: name, fontSize: 25, fontWeight: 'bold', fontFamily: FONT, fill: '#111', align: 'center', verticalAlign: 'middle' },
    });
  });

  const groupSpans = [[COL_LEFT[0], COL_LEFT[0] + PANEL_W], [COL_LEFT[1], COL_LEFT[1] + PANEL_W], [COL_LEFT[2], COL_LEFT[5] + PANEL_W]];
  const groupSizes = [14, 14, 22];
  GROUPS.forEach((g, j) => {
    const [x1, x2] = groupSpans[j];
    graphic.push({ type: 'line', shape: { x1, y1: 1844, x2, y2: 1844 }, style: { stroke: '#111', lineWidth: 2 } });
    graphic.push({
      type: 'text', x: (x1 + x2) / 2, y: j === 2 ? 1865 : 1868, rotation: Math.PI,
      style: { text: g, fontSize: groupSizes[j], fontWeight: 'bold', fontFamily: FONT, fill: '#111', align: 'center', verticalAlign: 'middle' },
    });
  });

  return {
    animation: false,
    backgroundColor: '#ffffff',
    textStyle: { fontFamily: FONT },
    grid, xAxis, yAxis, series, graphic,
  };
}

export default function App() {
  const ref = useRef<HTMLDivElement>(null);
  useEffect(() => {
    if (!ref.current) return;
    const chart = echarts.init(ref.current, undefined, { renderer: 'svg' });
    chart.setOption(buildOption() as any);
    return () => chart.dispose();
  }, []);
  return (
    <div
      ref={ref}
      style={{ position: 'absolute', left: 0, top: 0, width: 929, height: 1888, background: '#fff' }}
    />
  );
}
